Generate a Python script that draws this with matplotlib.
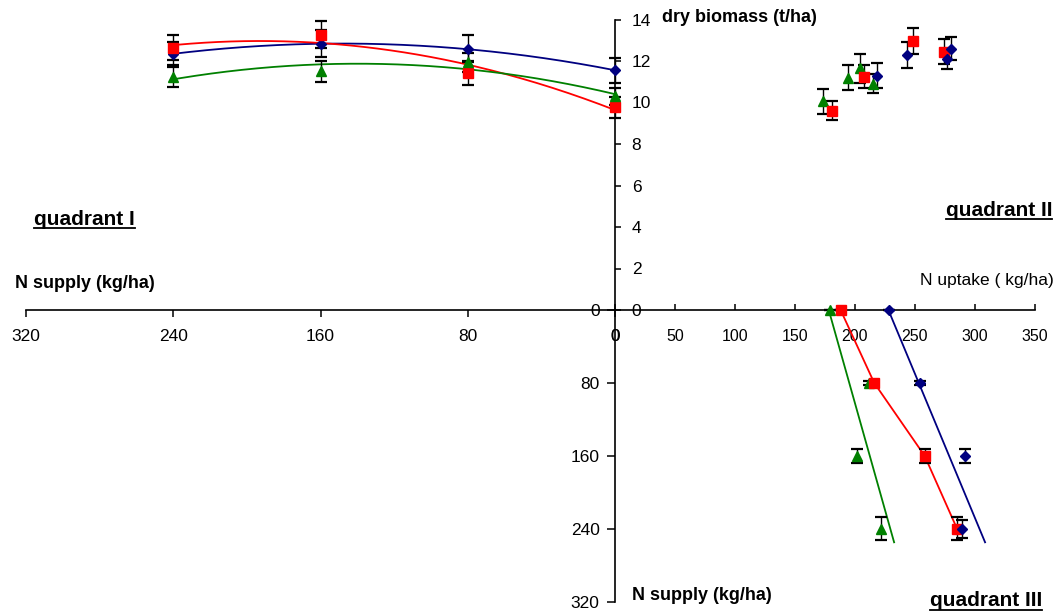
import numpy as np
import matplotlib
matplotlib.use("Agg")
import matplotlib.pyplot as plt
from matplotlib.lines import Line2D

plt.rcParams['font.family'] = ['Liberation Sans', 'DejaVu Sans']

# ---------------- data ----------------
# Quadrant I : N supply (kg/ha) vs dry biomass (t/ha)
q1_supply = [240, 160, 80, 0]
q1_blue = [12.35, 12.82, 12.58, 11.55]
q1_blue_err = [0.55, 0.65, 0.65, 0.6]
q1_red = [12.63, 13.27, 11.42, 9.77]
q1_red_err = [0.6, 0.65, 0.6, 0.5]
q1_green = [11.23, 11.5, 11.94, 10.29]
q1_green_err = [0.5, 0.5, 0.45, 0.4]

# Quadrant II : N uptake (kg/ha) vs dry biomass (t/ha)
q2_blue_x = [218, 243, 277, 280]
q2_blue_y = [11.3, 12.3, 12.1, 12.6]
q2_blue_err = [0.6, 0.62, 0.5, 0.55]
q2_red_x = [181, 207.5, 248, 274]
q2_red_y = [9.6, 11.25, 12.95, 12.45]
q2_red_err = [0.45, 0.55, 0.62, 0.6]
q2_green_x = [173, 194, 204, 215]
q2_green_y = [10.05, 11.2, 11.65, 10.9]
q2_green_err = [0.6, 0.6, 0.7, 0.45]

# Quadrant III : N uptake (kg/ha) vs N supply (kg/ha)
q3_supply = [0, 80, 160, 240]
q3_blue = [228, 254, 292, 289]
q3_blue_err = [0, 2, 7.5, 10]
q3_red = [188, 216, 258, 285]
q3_red_err = [0, 2, 7.5, 12.5]
q3_green = [179, 212, 202, 222]
q3_green_err = [0, 2, 7.5, 13]
trend_supply_max = 255

# axis ticks
q1_xticks = [320, 240, 160, 80, 0]
bio_ticks = [0, 2, 4, 6, 8, 10, 12, 14]
uptake_ticks = [0, 50, 100, 150, 200, 250, 300, 350]
q3_yticks = [0, 80, 160, 240, 320]

BLUE = '#000080'
RED = '#FF0000'
GREEN = '#008000'

W, H = 1056, 615
fig = plt.figure(figsize=(W / 100, H / 100), dpi=100)

def fx(px):
    return px / W

def fy(py):
    return 1 - py / H

x0, ytop, yorg, ybot = 615, 19.5, 310, 601.5
xleft, xright = 26, 1035

ax1 = fig.add_axes([fx(xleft), fy(yorg), fx(x0) - fx(xleft), fy(ytop) - fy(yorg)])
ax2 = fig.add_axes([fx(x0), fy(yorg), fx(xright) - fx(x0), fy(ytop) - fy(yorg)])
ax3 = fig.add_axes([fx(x0), fy(ybot), fx(xright) - fx(x0), fy(yorg) - fy(ybot)])
for a in (ax1, ax2, ax3):
    a.patch.set_alpha(0)
    for s in a.spines.values():
        s.set_visible(False)
        s.set_linewidth(1.2)
    a.tick_params(labelsize=12.5, width=1.1, colors='black')

eb_kw = dict(fmt='none', ecolor='black', elinewidth=1.0, capsize=4, capthick=1.6, zorder=2)

# ---- Quadrant I ----
ax1.set_xlim(320, 0)
ax1.set_ylim(0, 14)
ax1.spines['bottom'].set_visible(True)
ax1.spines['right'].set_visible(True)
ax1.set_xticks(q1_xticks)
ax1.tick_params(axis='x', direction='out', length=5, pad=9)
ax1.yaxis.tick_right()
ax1.set_yticks(bio_ticks)
ax1.tick_params(axis='y', direction='out', length=4, pad=8)

xs = np.linspace(0, 240, 200)
for yv, err, col, mk, ms in [(q1_blue, q1_blue_err, BLUE, 'D', 5.5),
                              (q1_red, q1_red_err, RED, 's', 6.5),
                              (q1_green, q1_green_err, GREEN, '^', 7)]:
    c = np.polyfit(q1_supply, yv, 2)
    ax1.plot(xs, np.polyval(c, xs), color=col, lw=1.3, zorder=1, clip_on=False)
    ax1.errorbar(q1_supply, yv, yerr=err, **eb_kw, clip_on=False)
    ax1.plot(q1_supply, yv, ls='none', marker=mk, ms=ms, color=col, zorder=3, clip_on=False)

# ---- Quadrant II ----
ax2.set_xlim(0, 350)
ax2.set_ylim(0, 14)
ax2.spines['bottom'].set_visible(True)
ax2.set_xticks(uptake_ticks)
ax2.tick_params(axis='x', direction='in', length=4, pad=14, labelsize=11.5)
ax2.set_yticks([])
for xv, yv, err, col, mk, ms in [(q2_green_x, q2_green_y, q2_green_err, GREEN, '^', 7),
                                  (q2_red_x, q2_red_y, q2_red_err, RED, 's', 6.5),
                                  (q2_blue_x, q2_blue_y, q2_blue_err, BLUE, 'D', 5.5)]:
    ax2.errorbar(xv, yv, yerr=err, **eb_kw)
    ax2.plot(xv, yv, ls='none', marker=mk, ms=ms, color=col, zorder=3)

# ---- Quadrant III ----
ax3.set_xlim(0, 350)
ax3.set_ylim(320, 0)
ax3.spines['left'].set_visible(True)
ax3.set_xticks([])
ax3.set_yticks(q3_yticks)
ax3.tick_params(axis='y', direction='out', length=6, pad=5)

ss = np.array([0, trend_supply_max])
for uv, col in [(q3_green, GREEN), (q3_blue, BLUE)]:
    b, a = np.polyfit(uv, q3_supply, 1)
    ax3.plot((ss - a) / b, ss, color=col, lw=1.3, zorder=1)
ax3.plot(q3_red, q3_supply, color=RED, lw=1.3, zorder=1)
for uv, err, col, mk, ms in [(q3_green, q3_green_err, GREEN, '^', 7),
                              (q3_red, q3_red_err, RED, 's', 6.5),
                              (q3_blue, q3_blue_err, BLUE, 'D', 5.5)]:
    ax3.errorbar(uv, q3_supply, yerr=err, **eb_kw, clip_on=False)
    ax3.plot(uv, q3_supply, ls='none', marker=mk, ms=ms, color=col, zorder=3, clip_on=False)

# ---- texts ----
TFS = 13
fig.text(fx(662), fy(18), 'dry biomass (t/ha)', fontsize=TFS, fontweight='bold', va='center', ha='left')
fig.text(fx(15), fy(283), 'N supply (kg/ha)', fontsize=TFS, fontweight='bold', va='center', ha='left')
fig.text(fx(1054), fy(281), 'N uptake ( kg/ha)', fontsize=12.5, va='center', ha='right')
fig.text(fx(632), fy(595), 'N supply (kg/ha)', fontsize=TFS, fontweight='bold', va='center', ha='left')

quads = [
    fig.text(fx(34), fy(220), 'quadrant I', fontsize=15, fontweight='bold', va='center', ha='left'),
    fig.text(fx(1052), fy(210), 'quadrant II', fontsize=15, fontweight='bold', va='center', ha='right'),
    fig.text(fx(930), fy(601), 'quadrant III', fontsize=15, fontweight='bold', va='center', ha='left'),
]
fig.canvas.draw()
r = fig.canvas.get_renderer()
for t in quads:
    bb = t.get_window_extent(r)
    yline = (bb.y0 + 1) / H
    fig.add_artist(Line2D([bb.x0 / W, bb.x1 / W], [yline, yline], color='black', lw=1.3,
                          transform=fig.transFigure))

fig.savefig('out.png', dpi=100)
